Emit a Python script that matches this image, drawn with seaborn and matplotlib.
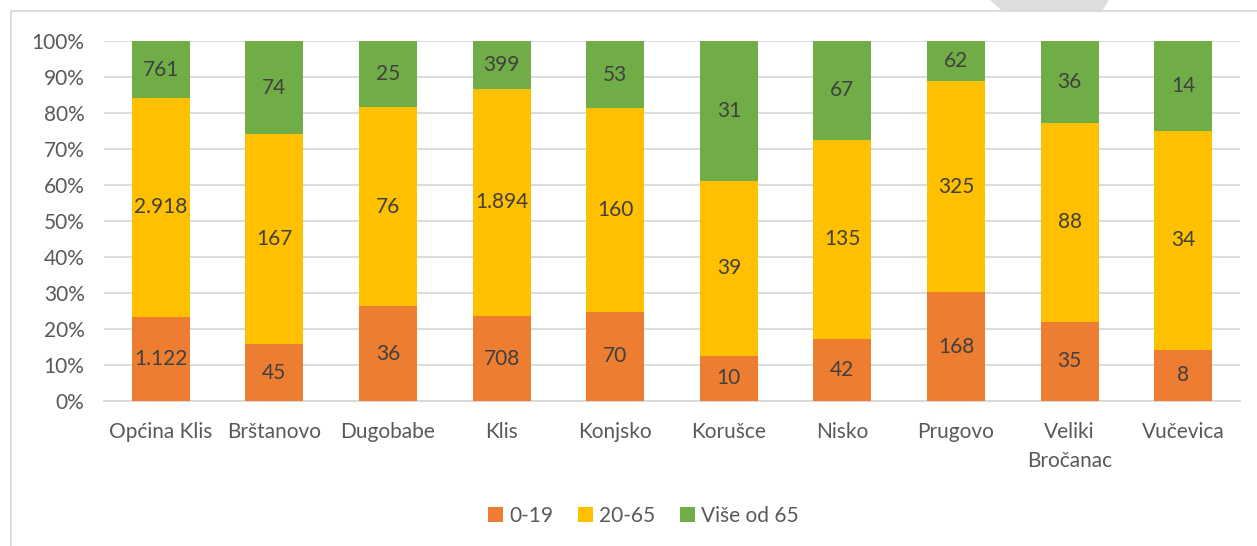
import numpy as np
import pandas as pd
import matplotlib
matplotlib.use("Agg")
import matplotlib.pyplot as plt
from matplotlib.patches import Patch, Polygon
import seaborn as sns

categories = ["Općina Klis", "Brštanovo", "Dugobabe", "Klis", "Konjsko",
              "Korušce", "Nisko", "Prugovo", "Veliki\nBročanac", "Vučevica"]
age_0_19 = [1122, 45, 36, 708, 70, 10, 42, 168, 35, 8]
age_20_65 = [2918, 167, 76, 1894, 160, 39, 135, 325, 88, 34]
age_65_plus = [761, 74, 25, 399, 53, 31, 67, 62, 36, 14]
series_names = ["0-19", "20-65", "Više od 65"]
colors = ["#ED7D31", "#FFC000", "#70AD47"]
y_ticks = [0, 10, 20, 30, 40, 50, 60, 70, 80, 90, 100]

sns.set_theme(style="white")
plt.rcParams["font.family"] = ["Lato", "DejaVu Sans"]

a = np.array(age_0_19, float)
b = np.array(age_20_65, float)
c = np.array(age_65_plus, float)
tot = a + b + c
p1 = a / tot * 100
p2 = b / tot * 100
p3 = c / tot * 100
cum1 = p1
cum2 = p1 + p2
cum3 = cum2 + p3

df = pd.DataFrame({"cat": categories, "c1": cum1, "c2": cum2, "c3": cum3})

fig = plt.figure(figsize=(12.57, 5.46), dpi=100)
ax = fig.add_axes([104 / 1257, 1 - 401 / 546, 1136 / 1257, 360 / 546])

for col, colr in zip(["c3", "c2", "c1"], colors[::-1]):
    sns.barplot(data=df, x="cat", y=col, color=colr, width=0.51, ax=ax,
                saturation=1, linewidth=0, zorder=3)

ax.set_ylim(0, 100)
ax.set_xlim(-0.5, len(categories) - 0.5)
ax.set_yticks(y_ticks)
ax.set_yticklabels([f"{t}%" for t in y_ticks])
ax.yaxis.grid(True, color="#D9D9D9", linewidth=1.3, zorder=0)
ax.set_axisbelow(True)
ax.set_xlabel("")
ax.set_ylabel("")
for s in ["top", "right", "left"]:
    ax.spines[s].set_visible(False)
ax.spines["bottom"].set_color("#D9D9D9")
ax.spines["bottom"].set_linewidth(1.3)
ax.tick_params(axis="both", length=0, labelsize=15, colors="#595959")
ax.tick_params(axis="x", pad=15)
ax.tick_params(axis="y", pad=14)
for lbl in ax.get_xticklabels():
    lbl.set_linespacing(1.55)

def fmt(v):
    return f"{int(v):,}".replace(",", ".")

bottoms = [np.zeros(len(categories)), cum1, cum2]
heights = [p1, p2, p3]
values = [age_0_19, age_20_65, age_65_plus]
for bot, h, vals in zip(bottoms, heights, values):
    for i, (bb, hh, v) in enumerate(zip(bot, h, vals)):
        ax.text(i, bb + hh / 2, fmt(v), ha="center", va="center",
                fontsize=15, color="#404040", zorder=5)

handles = [Patch(facecolor=cl, edgecolor="none") for cl in colors]
fig.legend(handles, series_names, loc="center", bbox_to_anchor=(0.512, 1 - 516 / 546),
           ncol=3, frameon=False, fontsize=15, labelcolor="#595959",
           handlelength=0.7, handleheight=0.7, handletextpad=0.3, columnspacing=1.2)

# chart frame (partially cropped) and background decoration
fig.add_artist(plt.Line2D([11 / 1257, 1], [1 - 11 / 546, 1 - 11 / 546],
                          transform=fig.transFigure, color="#D9D9D9", linewidth=1.3))
fig.add_artist(plt.Line2D([11 / 1257, 11 / 1257], [0, 1 - 11 / 546],
                          transform=fig.transFigure, color="#D9D9D9", linewidth=1.3))
fig.add_artist(Polygon([[990 / 1257, 1], [1109 / 1257, 1],
                        [1102 / 1257, 1 - 11 / 546], [1002 / 1257, 1 - 11 / 546]],
                       closed=True, transform=fig.transFigure,
                       facecolor="#DDDDDD", edgecolor="none"))

fig.savefig("out.png", dpi=100)
